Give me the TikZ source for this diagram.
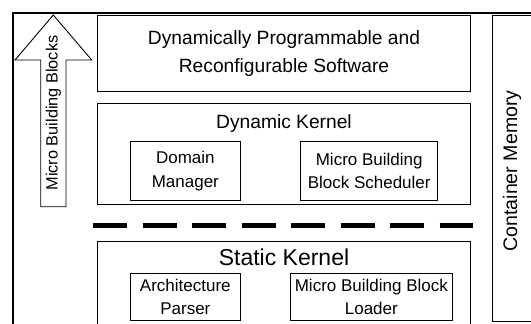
\documentclass[tikz,border=0pt]{standalone}
\usepackage{fontspec}
\setmainfont{Liberation Sans}
\begin{document}
\begin{tikzpicture}[x=1pt,y=-1pt,
  box/.style={draw=black,line width=0.9pt,inner sep=0pt,outer sep=0pt},
  bigfont/.style={font=\fontsize{19.2}{28.3}\selectfont},
  smallfont/.style={font=\fontsize{17}{23.5}\selectfont},
]
\useasboundingbox (0,0) rectangle (531,324);
\begin{scope}
\clip (0,0) rectangle (531,324);
% outer frame
\draw[line width=2pt] (12.7,13) rectangle (560,360);
% top box
\node[box,bigfont,align=center,minimum width=373.4pt,minimum height=76pt,anchor=north west] (sw) at (97.3,15.7)
  {Dynamically Programmable and\\Reconfigurable Software};
% dynamic kernel
\node[box,minimum width=373.4pt,minimum height=101pt,anchor=north west] (dk) at (97.3,103.3) {};
\node[bigfont,anchor=base] (dkt) at (284,128.3) {Dynamic Kernel};
\node[box,smallfont,align=center,minimum width=109.3pt,minimum height=58.6pt,anchor=north west] (dm) at (130.7,141.7)
  {Domain\\Manager};
\node[box,smallfont,align=center,minimum width=137pt,minimum height=58.6pt,anchor=north west] (sch) at (300.7,141.7)
  {Micro Building\\Block Scheduler};
% dashed separator
\coordinate (dl) at (93,225.7);
\coordinate (dr) at (473,225.7);
\draw[line width=4.5pt,dash pattern=on 34pt off 15.5pt] (dl) -- (dr);
% static kernel
\node[box,minimum width=373.4pt,minimum height=120pt,anchor=north west] (sk) at (97.3,241.7) {};
\node[font=\fontsize{23}{28}\selectfont,anchor=base] (skt) at (284,265) {Static Kernel};
\node[box,smallfont,align=center,minimum width=109.3pt,minimum height=47pt,anchor=north west] (ap) at (130.7,273.3)
  {Architecture\\Parser};
\node[box,smallfont,align=center,minimum width=162.7pt,minimum height=47pt,anchor=north west] (ld) at (290,273.3)
  {Micro Building Block\\Loader};
% container memory
\node[box,minimum width=60pt,minimum height=305.3pt,anchor=north west] (cm) at (492.5,15.7) {};
\node[font=\fontsize{19.6}{23}\selectfont,rotate=90] (cmt) at (512,171) {Container Memory};
% arrow
\draw[line width=0.9pt] (40.7,206.7) -- (40.7,60) -- (15,60) -- (53.3,15) -- (91.7,60) -- (66,60) -- (66,206.7) -- cycle;
\node[font=\fontsize{16.3}{20}\selectfont,rotate=90] (mbb) at (53.3,113) {Micro Building Blocks};
\end{scope}
\end{tikzpicture}
\end{document}
